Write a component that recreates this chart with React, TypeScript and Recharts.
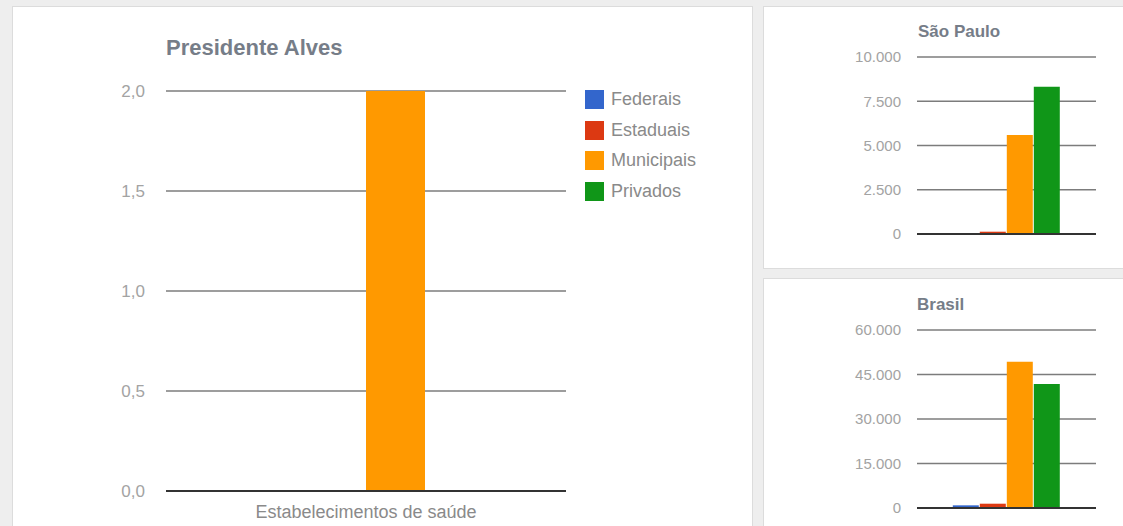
import React from 'react';
import { Bar, BarChart, CartesianGrid, Legend, XAxis, YAxis } from 'recharts';

const seriesKeys = ['federais', 'estaduais', 'municipais', 'privados'];
const seriesNames = ['Federais', 'Estaduais', 'Municipais', 'Privados'];
const seriesColors = ['#3366cc', '#dc3912', '#ff9900', '#109618'];

const category = 'Estabelecimentos de saúde';

// valores por série, na ordem de seriesKeys
const presidenteAlves = [0, 0, 2, 0];
const saoPaulo = [30, 130, 5600, 8320];
const brasil = [900, 1450, 49300, 41800];

const mainTicks = [0, 0.5, 1, 1.5, 2];
const spTicks = [0, 2500, 5000, 7500, 10000];
const brTicks = [0, 15000, 30000, 45000, 60000];

const FONT = "Arial, 'Liberation Sans', sans-serif";
const GRID = '#7c7c7c';
const TICK = '#a3a3a3';
const TITLE = '#767d88';

const toRow = (values: number[]) => {
  const row: Record<string, string | number> = { name: category };
  seriesKeys.forEach((k, i) => {
    row[k] = values[i];
  });
  return [row];
};

const fmtDecimal = (v: number) => v.toFixed(1).replace('.', ',');
const fmtThousands = (v: number) =>
  String(v).replace(/\B(?=(\d{3})+(?!\d))/g, '.');

const renderLegend = () => (
  <div style={{ fontFamily: FONT }}>
    {seriesNames.map((name, i) => (
      <div
        key={name}
        style={{
          position: 'absolute',
          left: 0,
          top: i * 30.67,
          height: 19,
          display: 'flex',
          alignItems: 'center',
          whiteSpace: 'nowrap',
        }}
      >
        <div style={{ width: 19, height: 19, background: seriesColors[i] }} />
        <span style={{ marginLeft: 7, fontSize: 18, color: '#8a8a8a', lineHeight: '19px' }}>
          {name}
        </span>
      </div>
    ))}
  </div>
);

const bars = () =>
  seriesKeys.map((k, i) => (
    <Bar
      key={k}
      dataKey={k}
      name={seriesNames[i]}
      fill={seriesColors[i]}
      isAnimationActive={false}
    />
  ));

function SmallChart({
  top,
  values,
  ticks,
  plotTop,
  xHeight,
}: {
  top: number;
  values: number[];
  ticks: number[];
  plotTop: number;
  xHeight: number;
}) {
  return (
    <div style={{ position: 'absolute', left: 764, top }}>
      <BarChart
        width={350}
        height={262}
        data={toRow(values)}
        margin={{ top: plotTop, right: 18, bottom: 0, left: 0 }}
        barCategoryGap="20%"
        barGap={1}
      >
        <CartesianGrid vertical={false} stroke={GRID} strokeWidth={1.5} />
        <XAxis
          dataKey="name"
          tick={false}
          tickLine={false}
          height={xHeight}
          axisLine={{ stroke: '#333', strokeWidth: 2 }}
        />
        <YAxis
          width={153}
          domain={[ticks[0], ticks[ticks.length - 1]]}
          ticks={ticks}
          tickFormatter={fmtThousands}
          axisLine={false}
          tickLine={false}
          tickSize={0}
          tickMargin={16}
          tick={{ fill: TICK, fontSize: 15, fontFamily: FONT }}
        />
        {bars()}
      </BarChart>
    </div>
  );
}

export default function App() {
  return (
    <div
      style={{
        position: 'absolute',
        left: 0,
        top: 0,
        width: 1123,
        height: 526,
        overflow: 'hidden',
        background: '#eeeeee',
        fontFamily: FONT,
      }}
    >
      <div
        style={{
          position: 'absolute',
          left: 12,
          top: 6,
          width: 741,
          height: 600,
          boxSizing: 'border-box',
          background: '#fff',
          border: '1px solid #dcdcdc',
        }}
      />
      <div
        style={{
          position: 'absolute',
          left: 763,
          top: 6,
          width: 400,
          height: 263,
          boxSizing: 'border-box',
          background: '#fff',
          border: '1px solid #dcdcdc',
        }}
      />
      <div
        style={{
          position: 'absolute',
          left: 763,
          top: 278,
          width: 400,
          height: 400,
          boxSizing: 'border-box',
          background: '#fff',
          border: '1px solid #dcdcdc',
        }}
      />

      <div
        style={{
          position: 'absolute',
          left: 166,
          top: 37,
          fontSize: 22,
          lineHeight: '22px',
          fontWeight: 'bold',
          color: TITLE,
          whiteSpace: 'nowrap',
        }}
      >
        Presidente Alves
      </div>

      <div style={{ position: 'absolute', left: 0, top: 0 }}>
        <BarChart
          width={752}
          height={526}
          data={toRow(presidenteAlves)}
          margin={{ top: 91, right: 186, bottom: 0, left: 0 }}
          barCategoryGap="20%"
          barGap={1}
        >
          <CartesianGrid vertical={false} stroke={GRID} strokeWidth={1.5} />
          <XAxis
            dataKey="name"
            height={35}
            tickLine={false}
            tickSize={0}
            tickMargin={14}
            axisLine={{ stroke: '#333', strokeWidth: 2 }}
            tick={{ fill: '#8a8a8a', fontSize: 18, fontFamily: FONT }}
          />
          <YAxis
            width={166}
            domain={[0, 2]}
            ticks={mainTicks}
            tickFormatter={fmtDecimal}
            axisLine={false}
            tickLine={false}
            tickSize={0}
            tickMargin={21}
            tick={{ fill: TICK, fontSize: 17, fontFamily: FONT }}
          />
          <Legend
            layout="horizontal"
            align="center"
            verticalAlign="middle"
            content={renderLegend}
            wrapperStyle={{ left: 585, top: 90, width: 150, height: 130 }}
          />
          {bars()}
        </BarChart>
      </div>

      <div
        style={{
          position: 'absolute',
          left: 918,
          top: 23,
          fontSize: 17,
          lineHeight: '17px',
          fontWeight: 'bold',
          color: TITLE,
          whiteSpace: 'nowrap',
        }}
      >
        São Paulo
      </div>
      <SmallChart top={6} values={saoPaulo} ticks={spTicks} plotTop={51} xHeight={34} />

      <div
        style={{
          position: 'absolute',
          left: 917,
          top: 296,
          fontSize: 17,
          lineHeight: '17px',
          fontWeight: 'bold',
          color: TITLE,
          whiteSpace: 'nowrap',
        }}
      >
        Brasil
      </div>
      <SmallChart top={278} values={brasil} ticks={brTicks} plotTop={52} xHeight={32} />
    </div>
  );
}
